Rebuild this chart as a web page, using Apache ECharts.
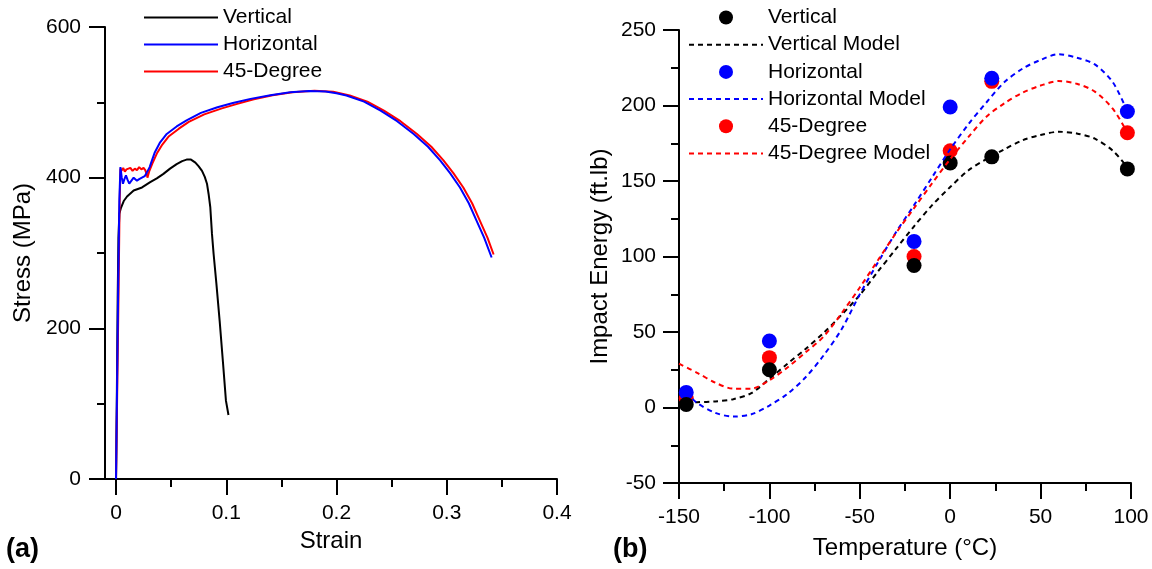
<!DOCTYPE html>
<html><head><meta charset="utf-8">
<script src="https://cdn.jsdelivr.net/npm/echarts@6/dist/echarts.min.js"></script>
<style>html,body{margin:0;padding:0;background:#fff}#c{width:1152px;height:569px}</style>
</head><body><div id="c"></div>
<script>
// ---------- (a) Stress-strain data ----------
const vertStrain = [0,0.0008,0.0015,0.0022,0.003,0.0045,0.007,0.01,0.016,0.0236,0.031,0.037,0.043,0.049,0.055,0.06,0.064,0.068,0.072,0.075,0.078,0.0805,0.0825,0.084,0.0855,0.087,0.0885,0.091,0.094,0.097,0.0997,0.102];
const vertStress = [0,120,240,320,352,360,369,375,383,387,394,399,405,412,418,422,424,424,420,415,409,401,392,378,361,326,299,260,210,155,104,85];

const horStrain = [0,0.001,0.002,0.003,0.004,0.0052,0.0063,0.0076,0.009,0.0105,0.012,0.014,0.016,0.0175,0.019,0.021,0.0235,0.026,0.028,0.0305,0.0326,0.035,0.04,0.046,0.055,0.064,0.077,0.092,0.106,0.122,0.14,0.158,0.175,0.19,0.2,0.209,0.225,0.24,0.255,0.27,0.283,0.294,0.303,0.312,0.32,0.327,0.334,0.3407];
const horStress = [0,130,260,370,414,400,392,398,403,397,392,396,400,398,396,398,400,402,407,414,423,433,447,458,468,476,486,493.5,499,504.6,509.5,513.4,515,514.5,512,509,501,489,475,458,441,423,406,387,366,343,320,294];

const degStrain = [0,0.0012,0.0024,0.0032,0.004,0.005,0.0065,0.008,0.0095,0.011,0.013,0.015,0.017,0.019,0.021,0.023,0.025,0.0265,0.0275,0.028,0.0285,0.03,0.033,0.037,0.042,0.048,0.057,0.066,0.08,0.096,0.11,0.125,0.142,0.16,0.18,0.197,0.212,0.228,0.243,0.258,0.273,0.286,0.297,0.306,0.315,0.323,0.33,0.337,0.3425];
const degStress = [0,130,260,360,412,409,413,408,411,410,413,409,412,410,414,411,413,410,412,404,400,408,419,432,444,455,465,474,484,492,498,504,509.5,513.5,515.5,514,509,501,489,475,458,441,423,406,387,366,343,320,298];

const strainMajor = [0,0.1,0.2,0.3,0.4];
const strainMinor = [0.05,0.15,0.25,0.35];

// ---------- (b) Impact energy data ----------
const tempPts = [-146,-100,-20,0,23,98];
const vertEnergy = [2,25,94,162,166,158];
const horEnergy = [10,44,110,199,218,196];
const degEnergy = [6,33,100,170,216,182];

const vModelT = [-146,-140,-130,-120,-110,-100,-90,-80,-70,-60,-50,-40,-30,-20,-10,0,10,20,30,40,50,60,70,80,90,98];
const vModelE = [3,3.5,4,5.5,9.5,19,29,38.8,49.4,61.5,74.5,90,105,120,134,146,157,164.5,171,177,180.5,182.6,181.5,178,170,159];
const hModelT = [-146,-140,-130,-120,-110,-100,-90,-80,-70,-60,-50,-40,-30,-20,-10,0,10,20,30,40,50,60,70,80,90,98];
const hModelE = [10,3,-3.5,-6,-4.5,1.3,9,20,34.5,52,75,96,116,134,152.5,171,187.5,202,215.5,224.4,230.2,234,231.7,227.2,215.3,196];
const rModelT = [-150,-140,-130,-120,-110,-100,-90,-80,-70,-60,-50,-40,-30,-20,-10,0,10,20,30,40,50,60,70,80,90,98];
const rModelE = [29,23,16.5,12.5,12.5,18,26.5,36.5,47,62.5,79.5,97.5,115.5,132,148.5,164.5,179,192.5,201.5,208.5,213.2,216.2,214.4,209.2,197.7,182];

const zip = (a,b) => a.map((v,i) => [v,b[i]]);
const FONT = 'Liberation Sans, Arial, Helvetica, sans-serif';
const axisLine = {show:true, onZero:false, lineStyle:{color:'#000', width:2}};
const tickStyle = {color:'#000', width:2};
const lbl = (m) => ({color:'#000', fontSize:21, fontFamily:FONT, margin:m});
const nameStyle = {color:'#000', fontSize:24, fontFamily:FONT};

// legend icons: solid and dashed strokes drawn as thin paths
const solidIcon = 'path://M0,0h74v2h-74z';
let d = '';
for (let x = 0; x < 74; x += 9) d += 'M' + x + ',0h' + Math.min(5, 74 - x) + 'v2h-' + Math.min(5, 74 - x) + 'z';
const dashIcon = 'path://' + d;

const chart = echarts.init(document.getElementById('c'), null, {renderer:'canvas'});
chart.setOption({
  animation:false,
  backgroundColor:'#fff',
  title:[
    {text:'(a)', left:1, top:531, textStyle:{fontSize:27, fontWeight:'bold', color:'#000', fontFamily:FONT}},
    {text:'(b)', left:608, top:531, textStyle:{fontSize:27, fontWeight:'bold', color:'#000', fontFamily:FONT}}
  ],
  grid:[
    {left:105, top:27, width:452, height:452},
    {left:679, top:30, width:452, height:453}
  ],
  legend:[
    {orient:'vertical', left:139, top:2, itemWidth:74, itemHeight:14, itemGap:6, selectedMode:false,
     itemStyle:{borderWidth:0},
     textStyle:{fontSize:21, lineHeight:21, color:'#000', fontFamily:FONT},
     data:[{name:'Vertical', icon:solidIcon},{name:'Horizontal', icon:solidIcon},{name:'45-Degree', icon:solidIcon}]},
    {orient:'vertical', left:684, top:2, itemWidth:74, itemHeight:14, itemGap:6.2, selectedMode:false,
     itemStyle:{borderWidth:0},
     textStyle:{fontSize:21, lineHeight:21, color:'#000', fontFamily:FONT},
     formatter: n => n.replace(' [b]',''),
     data:[{name:'Vertical [b]', icon:'circle'},{name:'Vertical Model', icon:dashIcon},
           {name:'Horizontal [b]', icon:'circle'},{name:'Horizontal Model', icon:dashIcon},
           {name:'45-Degree [b]', icon:'circle'},{name:'45-Degree Model', icon:dashIcon}]}
  ],
  xAxis:[
    {gridIndex:0, type:'value', min:-0.01, max:0.4, position:'bottom',
     name:'Strain', nameLocation:'middle', nameGap:48, nameTextStyle:nameStyle,
     axisLine:axisLine, splitLine:{show:false},
     axisTick:{show:true, length:16, lineStyle:tickStyle, customValues:strainMajor},
     axisLabel:Object.assign(lbl(24), {customValues:strainMajor})},
    {gridIndex:0, type:'value', min:-0.01, max:0.4, position:'bottom',
     axisLine:{show:false}, splitLine:{show:false},
     axisTick:{show:true, length:8, lineStyle:tickStyle, customValues:strainMinor},
     axisLabel:{show:false}},
    {gridIndex:1, type:'value', min:-150, max:100, interval:50, position:'bottom',
     name:'Temperature (°C)', nameLocation:'middle', nameGap:53, nameTextStyle:nameStyle,
     axisLine:axisLine, splitLine:{show:false},
     axisTick:{show:true, length:16, lineStyle:tickStyle},
     minorTick:{show:true, splitNumber:2, length:8, lineStyle:tickStyle},
     axisLabel:lbl(24)}
  ],
  yAxis:[
    {gridIndex:0, type:'value', min:0, max:600, interval:200,
     name:'Stress (MPa)', nameLocation:'middle', nameGap:70, nameTextStyle:nameStyle,
     axisLine:axisLine, splitLine:{show:false},
     axisTick:{show:true, length:16, lineStyle:tickStyle},
     minorTick:{show:true, splitNumber:2, length:8, lineStyle:tickStyle},
     axisLabel:lbl(24)},
    {gridIndex:1, type:'value', min:-50, max:250, interval:50,
     name:'Impact Energy (ft.lb)', nameLocation:'middle', nameGap:67, nameTextStyle:nameStyle,
     axisLine:axisLine, splitLine:{show:false},
     axisTick:{show:true, length:16, lineStyle:tickStyle},
     minorTick:{show:true, splitNumber:2, length:8, lineStyle:tickStyle},
     axisLabel:lbl(23)}
  ],
  series:[
    {name:'Vertical', type:'line', xAxisIndex:0, yAxisIndex:0, symbol:'none', data:zip(vertStrain,vertStress),
     itemStyle:{color:'#000'}, lineStyle:{color:'#000', width:2}},
    {name:'45-Degree', type:'line', xAxisIndex:0, yAxisIndex:0, symbol:'none', data:zip(degStrain,degStress),
     itemStyle:{color:'#ff0000'}, lineStyle:{color:'#ff0000', width:2}},
    {name:'Horizontal', type:'line', xAxisIndex:0, yAxisIndex:0, symbol:'none', data:zip(horStrain,horStress),
     itemStyle:{color:'#0000ff'}, lineStyle:{color:'#0000ff', width:2}},

    {name:'Vertical Model', type:'line', xAxisIndex:2, yAxisIndex:1, symbol:'none', smooth:0.3, data:zip(vModelT,vModelE),
     itemStyle:{color:'#000'}, lineStyle:{color:'#000', width:2, type:[5,4]}},
    {name:'Horizontal Model', type:'line', xAxisIndex:2, yAxisIndex:1, symbol:'none', smooth:0.3, data:zip(hModelT,hModelE),
     itemStyle:{color:'#0000ff'}, lineStyle:{color:'#0000ff', width:2, type:[5,4]}},
    {name:'45-Degree Model', type:'line', xAxisIndex:2, yAxisIndex:1, symbol:'none', smooth:0.3, data:zip(rModelT,rModelE),
     itemStyle:{color:'#ff0000'}, lineStyle:{color:'#ff0000', width:2, type:[5,4]}},
    {name:'45-Degree [b]', type:'scatter', xAxisIndex:2, yAxisIndex:1, symbol:'circle', symbolSize:15,
     data:zip(tempPts,degEnergy), itemStyle:{color:'#ff0000', opacity:1}},
    {name:'Horizontal [b]', type:'scatter', xAxisIndex:2, yAxisIndex:1, symbol:'circle', symbolSize:15,
     data:zip(tempPts,horEnergy), itemStyle:{color:'#0000ff', opacity:1}},
    {name:'Vertical [b]', type:'scatter', xAxisIndex:2, yAxisIndex:1, symbol:'circle', symbolSize:15,
     data:zip(tempPts,vertEnergy), itemStyle:{color:'#000', opacity:1}}
  ]
});
</script>
</body></html>
